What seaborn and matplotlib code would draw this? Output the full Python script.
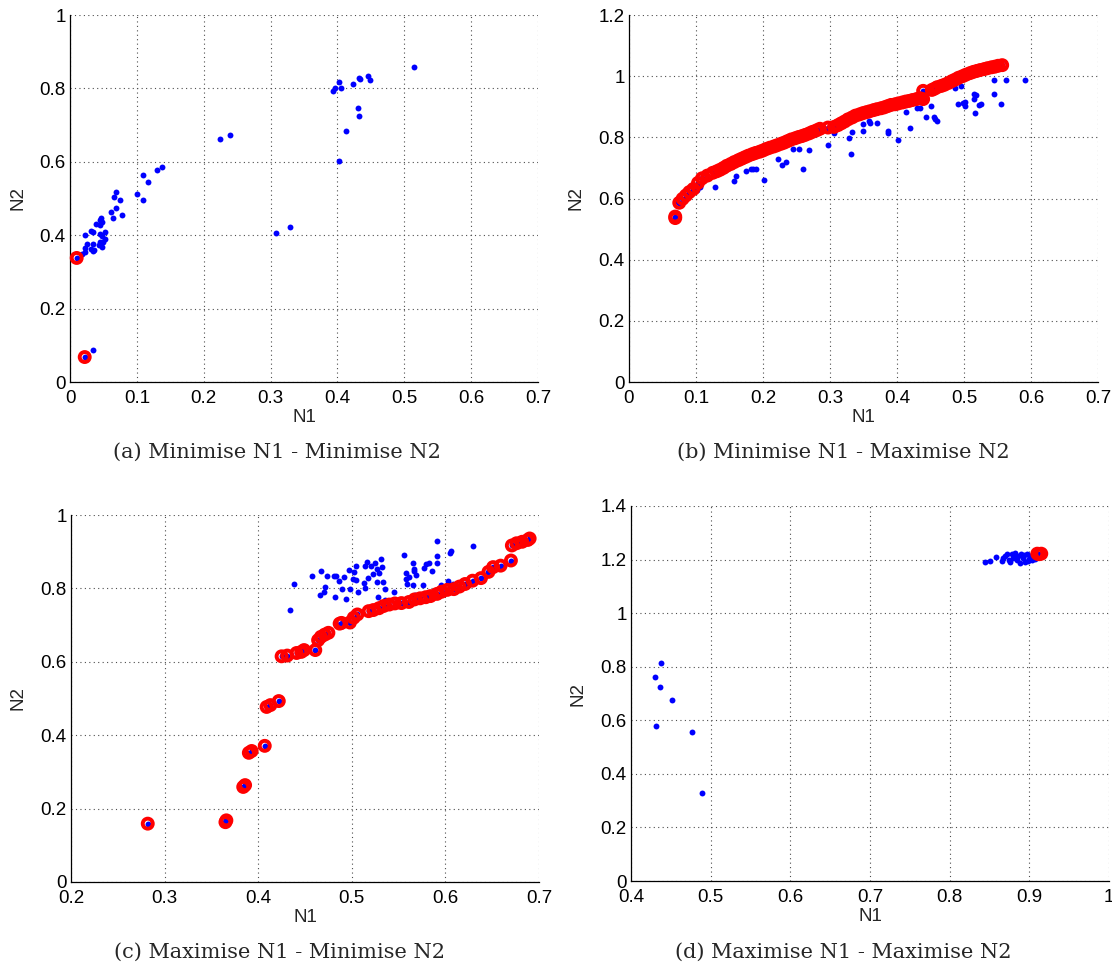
import numpy as np
import pandas as pd
import matplotlib
matplotlib.use("Agg")
import matplotlib.pyplot as plt
from matplotlib.ticker import FuncFormatter, MultipleLocator
import seaborn as sns

# ---------------- (a) Minimise N1 - Minimise N2 ----------------
a_front_n1 = [0.010, 0.022]
a_front_n2 = [0.338, 0.068]
a_other_n1 = [0.514, 0.445, 0.449, 0.432, 0.434, 0.423, 0.403, 0.405, 0.396, 0.394,
              0.431, 0.433, 0.413, 0.403, 0.225, 0.239, 0.308, 0.329, 0.138, 0.130,
              0.109, 0.117, 0.100, 0.109, 0.069, 0.066, 0.075, 0.069, 0.061, 0.064,
              0.078, 0.047, 0.045, 0.048, 0.039, 0.045, 0.023, 0.031, 0.035, 0.053,
              0.045, 0.048, 0.053, 0.050, 0.045, 0.026, 0.035, 0.043, 0.048, 0.023,
              0.031, 0.036, 0.034, 0.023, 0.018, 0.035]
a_other_n2 = [0.858, 0.833, 0.822, 0.828, 0.826, 0.813, 0.818, 0.800, 0.802, 0.794,
              0.747, 0.725, 0.683, 0.603, 0.661, 0.673, 0.405, 0.423, 0.585, 0.578,
              0.563, 0.544, 0.513, 0.497, 0.517, 0.505, 0.495, 0.474, 0.463, 0.447,
              0.455, 0.446, 0.441, 0.437, 0.431, 0.427, 0.401, 0.412, 0.408, 0.410,
              0.403, 0.397, 0.389, 0.382, 0.382, 0.377, 0.377, 0.373, 0.368, 0.364,
              0.362, 0.360, 0.356, 0.355, 0.348, 0.087]

# ---------------- (b) Minimise N1 - Maximise N2 ----------------
b_front_n1 = [0.069, 0.069, 0.075, 0.080, 0.085, 0.090, 0.096, 0.103, 0.109, 0.117,
              0.125, 0.131, 0.136, 0.141, 0.146, 0.152, 0.157, 0.163, 0.168, 0.173,
              0.178, 0.184, 0.189, 0.195, 0.200, 0.205, 0.210, 0.216, 0.221, 0.227,
              0.232, 0.237, 0.242, 0.248, 0.253, 0.258, 0.263, 0.269, 0.274, 0.280,
              0.285, 0.297, 0.306, 0.312, 0.317, 0.322, 0.327, 0.333, 0.338, 0.344,
              0.349, 0.354, 0.359, 0.365, 0.370, 0.376, 0.381, 0.386, 0.391, 0.397,
              0.402, 0.408, 0.413, 0.418, 0.423, 0.429, 0.434, 0.439, 0.439, 0.452,
              0.456, 0.460, 0.466, 0.471, 0.477, 0.482, 0.487, 0.492, 0.498, 0.503,
              0.509, 0.514, 0.519, 0.524, 0.530, 0.535, 0.541, 0.546, 0.551, 0.557]
b_front_n2 = [0.541, 0.536, 0.586, 0.599, 0.610, 0.621, 0.631, 0.651, 0.666, 0.675,
              0.684, 0.689, 0.694, 0.700, 0.707, 0.713, 0.719, 0.725, 0.730, 0.735,
              0.740, 0.745, 0.749, 0.753, 0.757, 0.762, 0.766, 0.770, 0.774, 0.779,
              0.783, 0.788, 0.793, 0.797, 0.801, 0.804, 0.808, 0.813, 0.818, 0.823,
              0.828, 0.832, 0.834, 0.840, 0.846, 0.852, 0.859, 0.865, 0.871, 0.875,
              0.879, 0.882, 0.885, 0.889, 0.892, 0.895, 0.898, 0.902, 0.906, 0.908,
              0.911, 0.914, 0.917, 0.919, 0.922, 0.925, 0.928, 0.925, 0.952, 0.955,
              0.959, 0.964, 0.968, 0.972, 0.978, 0.984, 0.989, 0.995, 1.000, 1.005,
              1.010, 1.014, 1.017, 1.020, 1.023, 1.026, 1.029, 1.031, 1.034, 1.036]
b_other_n1 = [0.591, 0.562, 0.545, 0.545, 0.555, 0.515, 0.518, 0.515, 0.517, 0.522,
              0.526, 0.502, 0.498, 0.491, 0.502, 0.495, 0.486, 0.455, 0.444, 0.457,
              0.459, 0.450, 0.444, 0.430, 0.435, 0.413, 0.419, 0.402, 0.386, 0.387,
              0.370, 0.358, 0.359, 0.349, 0.349, 0.333, 0.329, 0.332, 0.297, 0.306,
              0.268, 0.254, 0.259, 0.245, 0.235, 0.229, 0.222, 0.201, 0.190, 0.185,
              0.182, 0.174, 0.159, 0.157, 0.137, 0.128, 0.106, 0.101, 0.073]
b_other_n2 = [0.989, 0.989, 0.986, 0.941, 0.910, 0.941, 0.939, 0.925, 0.878, 0.907,
              0.910, 0.917, 0.913, 0.910, 0.903, 0.969, 0.962, 0.865, 0.865, 0.859,
              0.854, 0.903, 0.926, 0.895, 0.895, 0.884, 0.831, 0.790, 0.820, 0.815,
              0.848, 0.853, 0.848, 0.843, 0.821, 0.817, 0.799, 0.744, 0.774, 0.813,
              0.758, 0.762, 0.698, 0.762, 0.720, 0.709, 0.729, 0.660, 0.697, 0.696,
              0.696, 0.689, 0.673, 0.658, 0.688, 0.637, 0.636, 0.628, 0.588]

# ---------------- (c) Maximise N1 - Minimise N2 ----------------
c_front_n1 = [0.282, 0.365, 0.366, 0.384, 0.386, 0.390, 0.393, 0.407, 0.409, 0.413,
              0.422, 0.425, 0.431, 0.441, 0.446, 0.449, 0.461, 0.464, 0.467, 0.471,
              0.475, 0.487, 0.489, 0.498, 0.502, 0.506, 0.518, 0.523, 0.529, 0.534,
              0.540, 0.546, 0.553, 0.561, 0.567, 0.573, 0.579, 0.584, 0.591, 0.596,
              0.602, 0.609, 0.615, 0.621, 0.629, 0.638, 0.646, 0.651, 0.659, 0.670,
              0.671, 0.676, 0.682, 0.688, 0.690]
c_front_n2 = [0.159, 0.163, 0.168, 0.259, 0.264, 0.352, 0.357, 0.371, 0.477, 0.482,
              0.493, 0.615, 0.617, 0.624, 0.627, 0.632, 0.632, 0.659, 0.668, 0.674,
              0.679, 0.704, 0.706, 0.707, 0.720, 0.729, 0.738, 0.741, 0.746, 0.752,
              0.756, 0.759, 0.760, 0.763, 0.770, 0.773, 0.776, 0.779, 0.785, 0.791,
              0.796, 0.798, 0.805, 0.812, 0.821, 0.828, 0.845, 0.858, 0.862, 0.876,
              0.917, 0.923, 0.927, 0.932, 0.936]
c_other_n1 = [0.434, 0.438, 0.458, 0.467, 0.466, 0.470, 0.471, 0.474, 0.481, 0.482,
              0.483, 0.486, 0.490, 0.492, 0.494, 0.497, 0.498, 0.501, 0.502, 0.505,
              0.505, 0.507, 0.514, 0.513, 0.514, 0.516, 0.517, 0.521, 0.523, 0.525,
              0.527, 0.527, 0.528, 0.529, 0.531, 0.532, 0.533, 0.535, 0.536, 0.545,
              0.556, 0.558, 0.558, 0.561, 0.559, 0.565, 0.566, 0.566, 0.569, 0.565,
              0.567, 0.577, 0.579, 0.576, 0.583, 0.586, 0.591, 0.591, 0.591, 0.595,
              0.603, 0.605, 0.606, 0.608, 0.630]
c_other_n2 = [0.741, 0.812, 0.833, 0.848, 0.783, 0.791, 0.805, 0.834, 0.835, 0.777,
              0.835, 0.820, 0.799, 0.830, 0.772, 0.851, 0.799, 0.826, 0.845, 0.822,
              0.860, 0.789, 0.860, 0.816, 0.800, 0.872, 0.827, 0.861, 0.839, 0.870,
              0.818, 0.852, 0.777, 0.842, 0.881, 0.857, 0.817, 0.798, 0.769, 0.789,
              0.890, 0.825, 0.841, 0.830, 0.813, 0.870, 0.854, 0.848, 0.837, 0.809,
              0.781, 0.855, 0.866, 0.808, 0.869, 0.847, 0.930, 0.889, 0.869, 0.810,
              0.819, 0.897, 0.901, 0.811, 0.916]

# ---------------- (d) Maximise N1 - Maximise N2 ----------------
d_front_n1 = [0.910, 0.912, 0.915]
d_front_n2 = [1.222, 1.220, 1.222]
d_other_n1 = [0.438, 0.430, 0.436, 0.451, 0.432, 0.476, 0.489,
              0.844, 0.850, 0.858, 0.867, 0.866, 0.872, 0.874, 0.876, 0.878, 0.880,
              0.882, 0.884, 0.886, 0.888, 0.890, 0.892, 0.894, 0.897, 0.899, 0.901,
              0.903, 0.905, 0.907, 0.870, 0.883, 0.893, 0.898, 0.904]
d_other_n2 = [0.815, 0.760, 0.723, 0.676, 0.580, 0.557, 0.330,
              1.190, 1.195, 1.210, 1.206, 1.193, 1.219, 1.200, 1.190, 1.219, 1.206,
              1.225, 1.197, 1.215, 1.188, 1.222, 1.206, 1.192, 1.219, 1.202, 1.215,
              1.200, 1.210, 1.202, 1.212, 1.210, 1.218, 1.196, 1.220]

panels = [
    dict(front=(a_front_n1, a_front_n2), other=(a_other_n1, a_other_n2),
         xlim=(0, 0.7), ylim=(0, 1.0), xstep=0.1, ystep=0.2,
         rect=[70, 15, 538, 382], cap_x=277, cap_y=452,
         caption="(a) Minimise N1 - Minimise N2"),
    dict(front=(b_front_n1, b_front_n2), other=(b_other_n1, b_other_n2),
         xlim=(0, 0.7), ylim=(0, 1.2), xstep=0.1, ystep=0.2,
         rect=[629, 15, 1098, 382], cap_x=843, cap_y=452,
         caption="(b) Minimise N1 - Maximise N2"),
    dict(front=(c_front_n1, c_front_n2), other=(c_other_n1, c_other_n2),
         xlim=(0.2, 0.7), ylim=(0, 1.0), xstep=0.1, ystep=0.2,
         rect=[71, 515, 539, 882], cap_x=280, cap_y=952,
         caption="(c) Maximise N1 - Minimise N2"),
    dict(front=(d_front_n1, d_front_n2), other=(d_other_n1, d_other_n2),
         xlim=(0.4, 1.0), ylim=(0, 1.4), xstep=0.1, ystep=0.2,
         rect=[631, 506, 1109, 881], cap_x=843, cap_y=952,
         caption="(d) Maximise N1 - Maximise N2"),
]

W, H = 1112, 967
sns.set_style("white")
plt.rcParams["font.family"] = ["Liberation Sans", "DejaVu Sans"]

fig = plt.figure(figsize=(W / 100, H / 100), dpi=100)
fmt = FuncFormatter(lambda v, _: f"{v:g}")

for p in panels:
    x0, y0, x1, y1 = p["rect"]
    ax = fig.add_axes([x0 / W, 1 - y1 / H, (x1 - x0) / W, (y1 - y0) / H])

    front_n1, front_n2 = p["front"]
    other_n1, other_n2 = p["other"]
    all_df = pd.DataFrame({"N1": list(other_n1) + list(front_n1),
                           "N2": list(other_n2) + list(front_n2)})
    front_df = pd.DataFrame({"N1": front_n1, "N2": front_n2})

    # every evaluated solution as a blue dot
    sns.scatterplot(data=all_df, x="N1", y="N2", ax=ax, color="#0000ff",
                    s=18, linewidth=0, zorder=3, clip_on=False)
    # non-dominated solutions as open red rings over their dots
    sns.scatterplot(data=front_df, x="N1", y="N2", ax=ax, marker="o",
                    facecolors="none", edgecolor="#ff0000", color="#ff0000",
                    s=52, linewidth=2.8, zorder=4, clip_on=False)

    ax.set_xlim(*p["xlim"])
    ax.set_ylim(*p["ylim"])
    ax.xaxis.set_major_locator(MultipleLocator(p["xstep"]))
    ax.yaxis.set_major_locator(MultipleLocator(p["ystep"]))
    ax.xaxis.set_major_formatter(fmt)
    ax.yaxis.set_major_formatter(fmt)

    ax.grid(True, linestyle=(0, (1, 3)), color="0.3", linewidth=0.8)
    ax.set_axisbelow(True)
    for side in ("top", "right"):
        ax.spines[side].set_visible(False)
    for side in ("left", "bottom"):
        ax.spines[side].set_color("black")
        ax.spines[side].set_linewidth(0.9)

    ax.tick_params(axis="both", direction="in", length=4, width=0.9,
                   labelsize=13.5, colors="black")
    ax.tick_params(axis="x", pad=6)
    ax.tick_params(axis="y", pad=3)

    ax.set_xlabel("N1", fontsize=13.5)
    ax.set_ylabel("N2", fontsize=13.5)
    w_ax = x1 - x0
    h_ax = y1 - y0
    ax.xaxis.set_label_coords(0.5, -(409 - 382) / h_ax)
    ax.yaxis.set_label_coords(-(70 - 26) / w_ax, 0.5)

    fig.text(p["cap_x"] / W, 1 - p["cap_y"] / H, p["caption"],
             ha="center", va="center", fontsize=15,
             family=["DejaVu Serif"])

fig.savefig("out.png", dpi=100)
